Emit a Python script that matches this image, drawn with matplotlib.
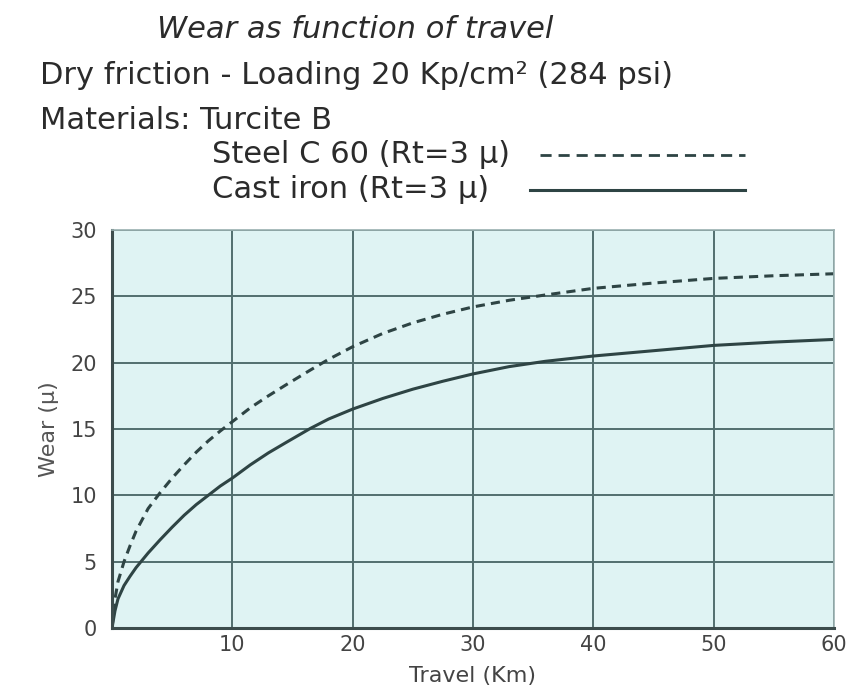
import matplotlib
matplotlib.use("Agg")
import matplotlib.pyplot as plt
from matplotlib.lines import Line2D

plt.rcParams['font.family'] = ['DejaVu Sans']

# Travel (Km) and wear (micron)
travel = [0, 0.25, 0.5, 1, 1.5, 2, 3, 4, 5, 6, 7, 8, 9, 10, 11.5, 13, 14.5, 16.5, 18, 20,
          22.5, 25, 27.5, 30, 33, 36, 40, 45, 50, 55, 60]
steel_c60 = [0, 2.2, 3.5, 5.0, 6.2, 7.3, 9.0, 10.2, 11.3, 12.3, 13.25, 14.1, 14.85, 15.55,
             16.6, 17.5, 18.35, 19.45, 20.25, 21.2, 22.2, 23.0, 23.65, 24.2, 24.7, 25.1,
             25.6, 26.0, 26.35, 26.55, 26.7]
cast_iron = [0, 1.3, 2.2, 3.2, 3.9, 4.55, 5.65, 6.65, 7.6, 8.5, 9.3, 10.0, 10.7, 11.3,
             12.3, 13.2, 14.0, 15.05, 15.75, 16.5, 17.3, 18.0, 18.6, 19.15, 19.7, 20.1,
             20.5, 20.9, 21.3, 21.55, 21.75]

xticks = [10, 20, 30, 40, 50, 60]
yticks = [0, 5, 10, 15, 20, 25, 30]

bg = "#dff3f3"
grid_col = "#526e6e"
line_col = "#2e4444"
text_col = "#2b2b2b"

fig = plt.figure(figsize=(8.51, 6.95), dpi=100)
ax = fig.add_axes([0.1316, 0.0964, 0.8484, 0.5727])
ax.set_facecolor(bg)

ax.plot(travel, steel_c60, color=line_col, lw=2.2, ls=(0, (3, 2)))
ax.plot(travel, cast_iron, color=line_col, lw=2.2)

ax.set_xlim(0, 60)
ax.set_ylim(0, 30)
ax.set_xticks(xticks)
ax.set_yticks(yticks)
ax.grid(True, color=grid_col, lw=1.4)
ax.set_axisbelow(True)
ax.tick_params(length=0, labelsize=15, labelcolor="#444444")
ax.tick_params(axis="y", pad=11)
ax.tick_params(axis="x", pad=5)
for side in ["top", "right"]:
    ax.spines[side].set_color("#9ab0b0")
    ax.spines[side].set_linewidth(1.2)
for side in ["left", "bottom"]:
    ax.spines[side].set_color("#3c4c4c")
    ax.spines[side].set_linewidth(2.2)

ax.set_xlabel("Travel (Km)", fontsize=16, color="#444444", labelpad=8)
ax.set_ylabel("Wear (\u03bc)", fontsize=16, color="#555555", labelpad=8)

# header block
fig.text(0.417, 0.957, "Wear as function of travel", ha="center", va="center",
         fontsize=22, style="italic", color=text_col)
fig.text(0.047, 0.892, "Dry friction - Loading 20 Kp/cm\u00b2 (284 psi)", ha="left",
         va="center", fontsize=22, color=text_col)
fig.text(0.047, 0.827, "Materials: Turcite B", ha="left", va="center", fontsize=22,
         color=text_col)
fig.text(0.249, 0.777, "Steel C 60 (Rt=3 \u03bc)", ha="left", va="center", fontsize=22,
         color=text_col)
fig.text(0.249, 0.727, "Cast iron (Rt=3 \u03bc)", ha="left", va="center", fontsize=22,
         color=text_col)

fig.add_artist(Line2D([0.635, 0.876], [0.777, 0.777], color=line_col, lw=2.0,
                      ls=(0, (4, 2.5)), transform=fig.transFigure))
fig.add_artist(Line2D([0.623, 0.876], [0.727, 0.727], color=line_col, lw=2.2,
                      transform=fig.transFigure))

fig.savefig("out.png", dpi=100)
